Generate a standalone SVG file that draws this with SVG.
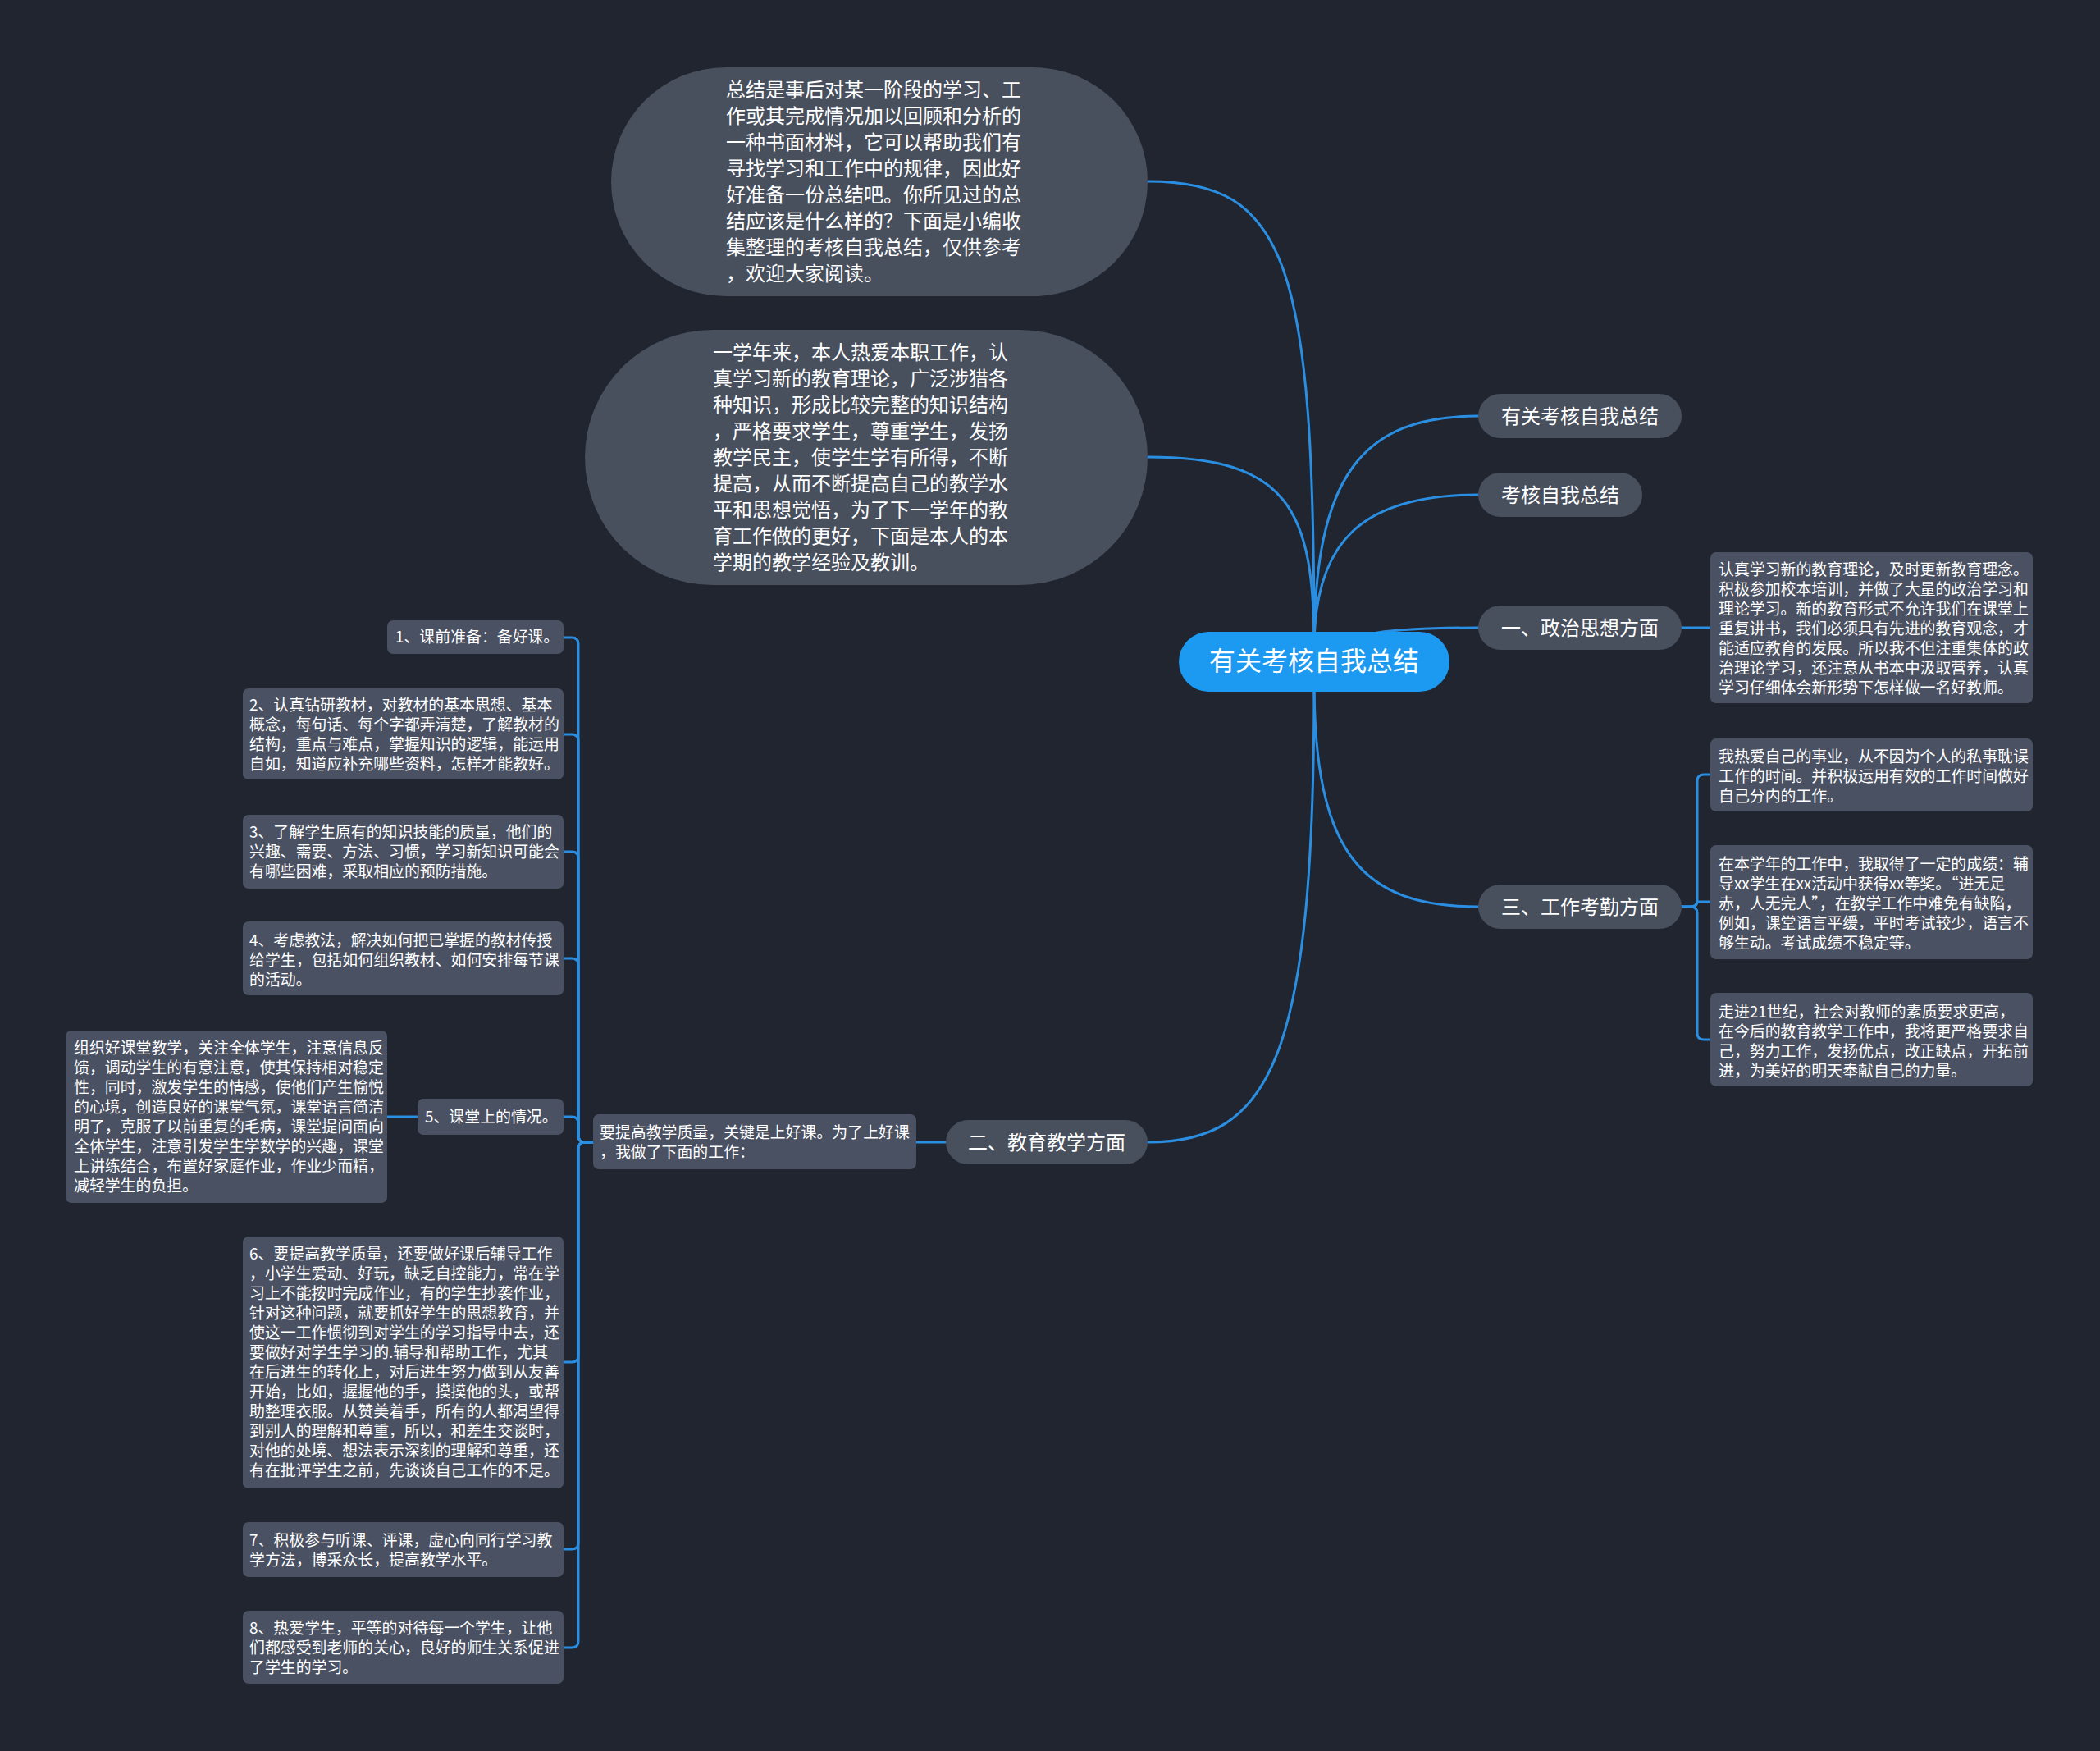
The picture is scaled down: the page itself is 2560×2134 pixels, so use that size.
<svg xmlns="http://www.w3.org/2000/svg" width="2560" height="2134" viewBox="0 0 2560 2134">
<style>
.bg{fill:#21252f}
.pill{fill:#484f5d}
.box{fill:#4a5162}
.root{fill:#1c9af2}
.t{font-family:"Noto Sans CJK SC","Noto Sans",sans-serif;fill:#ffffff}
.big{font-size:24px}
.sm{font-size:18.9px}
.rt{font-size:32px}
.ln{fill:none;stroke:#2a8fe2;stroke-width:3;stroke-linecap:round}
</style>
<rect class="bg" x="0" y="0" width="2560" height="2134"/>
<g id="connectors">
<path class="ln" d="M1602,790 C1602,320 1570,221 1399,221"/>
<path class="ln" d="M1602,790 C1602,620 1570,557 1399,557"/>
<path class="ln" d="M1602,790 C1602,580 1660,507 1802,507"/>
<path class="ln" d="M1602,790 C1602,660 1660,603 1802,603"/>
<path class="ln" d="M1602,800 C1640,770 1700,765 1802,765"/>
<path class="ln" d="M1602,830 C1602,1040 1660,1105 1802,1105"/>
<path class="ln" d="M1602,830 C1602,1290 1550,1392 1399,1392"/>
<path class="ln" d="M2049,765 L2085,765"/>
<path class="ln" d="M2049,1105 L2061,1105 Q2069,1105 2069,1097 L2069,952 Q2069,944 2077,944 L2085,944"/>
<path class="ln" d="M2049,1105 L2061,1105 Q2069,1105 2069,1099 L2069,1099 L2085,1099"/>
<path class="ln" d="M2049,1105 L2061,1105 Q2069,1105 2069,1113 L2069,1259 Q2069,1267 2077,1267 L2085,1267"/>
<path class="ln" d="M1153,1392 L1117,1392"/>
<path class="ln" d="M723,1392 L713,1392 Q705,1392 705,1384 L705,785 Q705,777 697,777 L687,777"/>
<path class="ln" d="M723,1392 L713,1392 Q705,1392 705,1384 L705,903 Q705,895 697,895 L687,895"/>
<path class="ln" d="M723,1392 L713,1392 Q705,1392 705,1384 L705,1046 Q705,1038 697,1038 L687,1038"/>
<path class="ln" d="M723,1392 L713,1392 Q705,1392 705,1384 L705,1176 Q705,1168 697,1168 L687,1168"/>
<path class="ln" d="M723,1392 L713,1392 Q705,1392 705,1384 L705,1369 Q705,1361 697,1361 L687,1361"/>
<path class="ln" d="M723,1392 L713,1392 Q705,1392 705,1400 L705,1652 Q705,1660 697,1660 L687,1660"/>
<path class="ln" d="M723,1392 L713,1392 Q705,1392 705,1400 L705,1880 Q705,1888 697,1888 L687,1888"/>
<path class="ln" d="M723,1392 L713,1392 Q705,1392 705,1400 L705,2000 Q705,2008 697,2008 L687,2008"/>
<path class="ln" d="M509,1361 L472,1361"/>
</g>
<g id="intro1">
<rect class="pill" x="745" y="82" width="654" height="279" rx="139.5"/>
<text class="t big" x="885">
<tspan x="885" y="118">总结是事后对某一阶段的学习、工</tspan>
<tspan x="885" y="150">作或其完成情况加以回顾和分析的</tspan>
<tspan x="885" y="182">一种书面材料，它可以帮助我们有</tspan>
<tspan x="885" y="214">寻找学习和工作中的规律，因此好</tspan>
<tspan x="885" y="246">好准备一份总结吧。你所见过的总</tspan>
<tspan x="885" y="278">结应该是什么样的？下面是小编收</tspan>
<tspan x="885" y="310">集整理的考核自我总结，仅供参考</tspan>
<tspan x="885" y="342">，欢迎大家阅读。</tspan>
</text>
</g>
<g id="intro2">
<rect class="pill" x="713" y="402" width="686" height="311" rx="155.5"/>
<text class="t big">
<tspan x="869" y="438">一学年来，本人热爱本职工作，认</tspan>
<tspan x="869" y="470">真学习新的教育理论，广泛涉猎各</tspan>
<tspan x="869" y="502">种知识，形成比较完整的知识结构</tspan>
<tspan x="869" y="534">，严格要求学生，尊重学生，发扬</tspan>
<tspan x="869" y="566">教学民主，使学生学有所得，不断</tspan>
<tspan x="869" y="598">提高，从而不断提高自己的教学水</tspan>
<tspan x="869" y="630">平和思想觉悟，为了下一学年的教</tspan>
<tspan x="869" y="662">育工作做的更好，下面是本人的本</tspan>
<tspan x="869" y="694">学期的教学经验及教训。</tspan>
</text>
</g>
<g id="root">
<rect class="root" x="1437" y="770" width="330" height="73" rx="36.5"/>
<text class="t rt" x="1602" y="817" text-anchor="middle">有关考核自我总结</text>
</g>
<g id="n-title">
<rect class="pill" x="1802" y="480" width="248" height="54" rx="27"/>
<text class="t big" x="1830" y="516">有关考核自我总结</text>
</g>
<g id="n-kaohe">
<rect class="pill" x="1802" y="576" width="200" height="54" rx="27"/>
<text class="t big" x="1830" y="612">考核自我总结</text>
</g>
<g id="n-zhengzhi">
<rect class="pill" x="1802" y="738" width="248" height="54" rx="27"/>
<text class="t big" x="1830" y="774">一、政治思想方面</text>
</g>
<g id="n-zhengzhi-1">
<rect class="box" x="2085" y="673" width="393" height="184" rx="7"/>
<text class="t sm">
<tspan x="2095" y="701">认真学习新的教育理论，及时更新教育理念。</tspan>
<tspan x="2095" y="725">积极参加校本培训，并做了大量的政治学习和</tspan>
<tspan x="2095" y="749">理论学习。新的教育形式不允许我们在课堂上</tspan>
<tspan x="2095" y="773">重复讲书，我们必须具有先进的教育观念，才</tspan>
<tspan x="2095" y="797">能适应教育的发展。所以我不但注重集体的政</tspan>
<tspan x="2095" y="821">治理论学习，还注意从书本中汲取营养，认真</tspan>
<tspan x="2095" y="845">学习仔细体会新形势下怎样做一名好教师。</tspan>
</text>
</g>
<g id="n-kaoqin">
<rect class="pill" x="1802" y="1078" width="248" height="54" rx="27"/>
<text class="t big" x="1830" y="1114">三、工作考勤方面</text>
</g>
<g id="n-kaoqin-1">
<rect class="box" x="2085" y="900" width="393" height="89" rx="7"/>
<text class="t sm">
<tspan x="2095" y="929">我热爱自己的事业，从不因为个人的私事耽误</tspan>
<tspan x="2095" y="953">工作的时间。并积极运用有效的工作时间做好</tspan>
<tspan x="2095" y="977">自己分内的工作。</tspan>
</text>
</g>
<g id="n-kaoqin-2">
<rect class="box" x="2085" y="1030" width="393" height="139" rx="7"/>
<text class="t sm">
<tspan x="2095" y="1060">在本学年的工作中，我取得了一定的成绩：辅</tspan>
<tspan x="2095" y="1084">导xx学生在xx活动中获得xx等奖。“进无足</tspan>
<tspan x="2095" y="1108">赤，人无完人”，在教学工作中难免有缺陷，</tspan>
<tspan x="2095" y="1132">例如，课堂语言平缓，平时考试较少，语言不</tspan>
<tspan x="2095" y="1156">够生动。考试成绩不稳定等。</tspan>
</text>
</g>
<g id="n-kaoqin-3">
<rect class="box" x="2085" y="1210" width="393" height="114" rx="7"/>
<text class="t sm">
<tspan x="2095" y="1240">走进21世纪，社会对教师的素质要求更高，</tspan>
<tspan x="2095" y="1264">在今后的教育教学工作中，我将更严格要求自</tspan>
<tspan x="2095" y="1288">己，努力工作，发扬优点，改正缺点，开拓前</tspan>
<tspan x="2095" y="1312">进，为美好的明天奉献自己的力量。</tspan>
</text>
</g>
<g id="n-jiaoyu">
<rect class="pill" x="1153" y="1365" width="246" height="54" rx="27"/>
<text class="t big" x="1180" y="1401">二、教育教学方面</text>
</g>
<g id="n-jiaoyu-0">
<rect class="box" x="723" y="1358" width="394" height="67" rx="7"/>
<text class="t sm">
<tspan x="731" y="1387">要提高教学质量，关键是上好课。为了上好课</tspan>
<tspan x="731" y="1411">，我做了下面的工作：</tspan>
</text>
</g>
<g id="item1">
<rect class="box" x="472" y="756" width="215" height="41" rx="7"/>
<text class="t sm" x="482" y="783">1、课前准备：备好课。</text>
</g>
<g id="item2">
<rect class="box" x="296" y="839" width="391" height="111" rx="7"/>
<text class="t sm">
<tspan x="304" y="866">2、认真钻研教材，对教材的基本思想、基本</tspan>
<tspan x="304" y="890">概念，每句话、每个字都弄清楚，了解教材的</tspan>
<tspan x="304" y="914">结构，重点与难点，掌握知识的逻辑，能运用</tspan>
<tspan x="304" y="938">自如，知道应补充哪些资料，怎样才能教好。</tspan>
</text>
</g>
<g id="item3">
<rect class="box" x="296" y="993" width="391" height="90" rx="7"/>
<text class="t sm">
<tspan x="304" y="1021">3、了解学生原有的知识技能的质量，他们的</tspan>
<tspan x="304" y="1045">兴趣、需要、方法、习惯，学习新知识可能会</tspan>
<tspan x="304" y="1069">有哪些困难，采取相应的预防措施。</tspan>
</text>
</g>
<g id="item4">
<rect class="box" x="296" y="1123" width="391" height="90" rx="7"/>
<text class="t sm">
<tspan x="304" y="1153">4、考虑教法，解决如何把已掌握的教材传授</tspan>
<tspan x="304" y="1177">给学生，包括如何组织教材、如何安排每节课</tspan>
<tspan x="304" y="1201">的活动。</tspan>
</text>
</g>
<g id="item5">
<rect class="box" x="509" y="1339" width="178" height="44" rx="7"/>
<text class="t sm" x="518" y="1368">5、课堂上的情况。</text>
</g>
<g id="item5-1">
<rect class="box" x="80" y="1256" width="392" height="210" rx="7"/>
<text class="t sm">
<tspan x="90" y="1284">组织好课堂教学，关注全体学生，注意信息反</tspan>
<tspan x="90" y="1308">馈，调动学生的有意注意，使其保持相对稳定</tspan>
<tspan x="90" y="1332">性，同时，激发学生的情感，使他们产生愉悦</tspan>
<tspan x="90" y="1356">的心境，创造良好的课堂气氛，课堂语言简洁</tspan>
<tspan x="90" y="1380">明了，克服了以前重复的毛病，课堂提问面向</tspan>
<tspan x="90" y="1404">全体学生，注意引发学生学数学的兴趣，课堂</tspan>
<tspan x="90" y="1428">上讲练结合，布置好家庭作业，作业少而精，</tspan>
<tspan x="90" y="1452">减轻学生的负担。</tspan>
</text>
</g>
<g id="item6">
<rect class="box" x="296" y="1507" width="391" height="307" rx="7"/>
<text class="t sm">
<tspan x="304" y="1535">6、要提高教学质量，还要做好课后辅导工作</tspan>
<tspan x="304" y="1559">，小学生爱动、好玩，缺乏自控能力，常在学</tspan>
<tspan x="304" y="1583">习上不能按时完成作业，有的学生抄袭作业，</tspan>
<tspan x="304" y="1607">针对这种问题，就要抓好学生的思想教育，并</tspan>
<tspan x="304" y="1631">使这一工作惯彻到对学生的学习指导中去，还</tspan>
<tspan x="304" y="1655">要做好对学生学习的.辅导和帮助工作，尤其</tspan>
<tspan x="304" y="1679">在后进生的转化上，对后进生努力做到从友善</tspan>
<tspan x="304" y="1703">开始，比如，握握他的手，摸摸他的头，或帮</tspan>
<tspan x="304" y="1727">助整理衣服。从赞美着手，所有的人都渴望得</tspan>
<tspan x="304" y="1751">到别人的理解和尊重，所以，和差生交谈时，</tspan>
<tspan x="304" y="1775">对他的处境、想法表示深刻的理解和尊重，还</tspan>
<tspan x="304" y="1799">有在批评学生之前，先谈谈自己工作的不足。</tspan>
</text>
</g>
<g id="item7">
<rect class="box" x="296" y="1855" width="391" height="67" rx="7"/>
<text class="t sm">
<tspan x="304" y="1884">7、积极参与听课、评课，虚心向同行学习教</tspan>
<tspan x="304" y="1908">学方法，博采众长，提高教学水平。</tspan>
</text>
</g>
<g id="item8">
<rect class="box" x="296" y="1963" width="391" height="89" rx="7"/>
<text class="t sm">
<tspan x="304" y="1991">8、热爱学生，平等的对待每一个学生，让他</tspan>
<tspan x="304" y="2015">们都感受到老师的关心，良好的师生关系促进</tspan>
<tspan x="304" y="2039">了学生的学习。</tspan>
</text>
</g>
</svg>
